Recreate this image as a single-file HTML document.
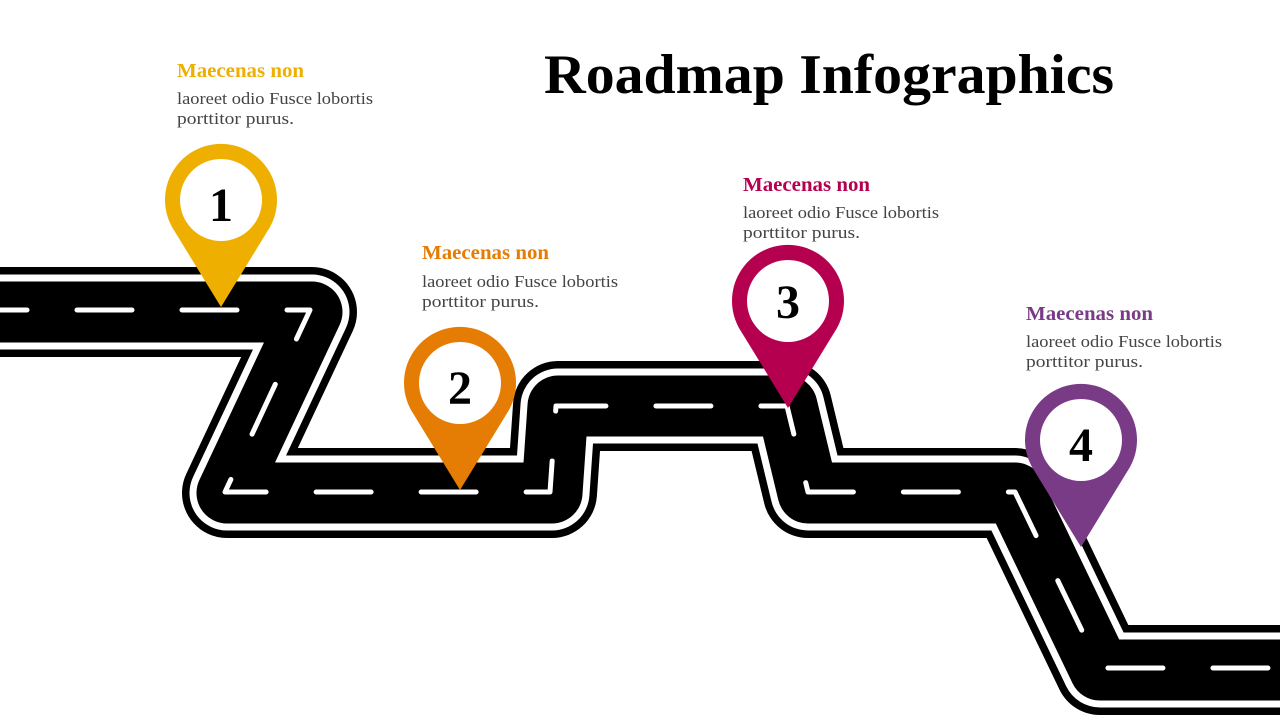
<!DOCTYPE html>
<html><head><meta charset="utf-8"><style>
html,body{margin:0;padding:0;background:#fff;}
svg{display:block;}
.h{font-family:"Liberation Serif",serif;font-weight:bold;font-size:19.5px;}
.b{font-family:"Liberation Serif",serif;font-size:17px;fill:#444;}
.n{font-family:"Liberation Serif",serif;font-weight:bold;font-size:48px;fill:#000;text-anchor:middle;}
</style></head><body>
<svg width="1280" height="720" viewBox="0 0 1280 720" xmlns="http://www.w3.org/2000/svg">
<text x="544" y="93" textLength="570" lengthAdjust="spacingAndGlyphs" font-family="Liberation Serif,serif" font-weight="bold" font-size="56" fill="#000">Roadmap Infographics</text>
<g fill="none" stroke-linejoin="round">
<path d="M0,312 L312,312 L227,493 L552,493 L558,406 L787,406 L808,493 L1015,493 L1100,670 L1290,670" stroke="#000" stroke-width="90"/>
<path d="M0,312 L312,312 L227,493 L552,493 L558,406 L787,406 L808,493 L1015,493 L1100,670 L1290,670" stroke="#fff" stroke-width="75"/>
<path d="M0,312 L312,312 L227,493 L552,493 L558,406 L787,406 L808,493 L1015,493 L1100,670 L1290,670" stroke="#000" stroke-width="61"/>
<path d="M0,310 L310,310 L225,492 L550,492 L556,406 L787,406 L808,492 L1015,492 L1100,668 L1290,668" stroke="#fff" stroke-width="5" stroke-linecap="round" stroke-dasharray="55 50" stroke-dashoffset="28"/>
</g>
<g>
<path transform="translate(221,200)" d="M0,107 L-49,27 A56,56 0 1 1 49,27 Z" fill="#EEAF00"/>
<circle cx="221" cy="200" r="41" fill="#fff"/>
<text class="n" x="221" y="221">1</text>
<path transform="translate(460,383)" d="M0,107 L-49,27 A56,56 0 1 1 49,27 Z" fill="#E57C04"/>
<circle cx="460" cy="383" r="41" fill="#fff"/>
<text class="n" x="460" y="404">2</text>
<path transform="translate(788,301)" d="M0,107 L-49,27 A56,56 0 1 1 49,27 Z" fill="#B5004F"/>
<circle cx="788" cy="301" r="41" fill="#fff"/>
<text class="n" x="788" y="318">3</text>
<path transform="translate(1081,440)" d="M0,107 L-49,27 A56,56 0 1 1 49,27 Z" fill="#7A3B86"/>
<circle cx="1081" cy="440" r="41" fill="#fff"/>
<text class="n" x="1081" y="461">4</text>
</g>
<text class="h" x="177" y="77" textLength="127" lengthAdjust="spacingAndGlyphs" fill="#EEAF00">Maecenas non</text>
<text class="b" x="177" y="104" textLength="196" lengthAdjust="spacingAndGlyphs">laoreet odio Fusce lobortis</text>
<text class="b" x="177" y="124" textLength="117" lengthAdjust="spacingAndGlyphs">porttitor purus.</text>
<text class="h" x="422" y="259" textLength="127" lengthAdjust="spacingAndGlyphs" fill="#E57C04">Maecenas non</text>
<text class="b" x="422" y="287" textLength="196" lengthAdjust="spacingAndGlyphs">laoreet odio Fusce lobortis</text>
<text class="b" x="422" y="307" textLength="117" lengthAdjust="spacingAndGlyphs">porttitor purus.</text>
<text class="h" x="743" y="191" textLength="127" lengthAdjust="spacingAndGlyphs" fill="#B5004F">Maecenas non</text>
<text class="b" x="743" y="218" textLength="196" lengthAdjust="spacingAndGlyphs">laoreet odio Fusce lobortis</text>
<text class="b" x="743" y="238" textLength="117" lengthAdjust="spacingAndGlyphs">porttitor purus.</text>
<text class="h" x="1026" y="320" textLength="127" lengthAdjust="spacingAndGlyphs" fill="#7A3B86">Maecenas non</text>
<text class="b" x="1026" y="347" textLength="196" lengthAdjust="spacingAndGlyphs">laoreet odio Fusce lobortis</text>
<text class="b" x="1026" y="367" textLength="117" lengthAdjust="spacingAndGlyphs">porttitor purus.</text>
</svg>
</body></html>
